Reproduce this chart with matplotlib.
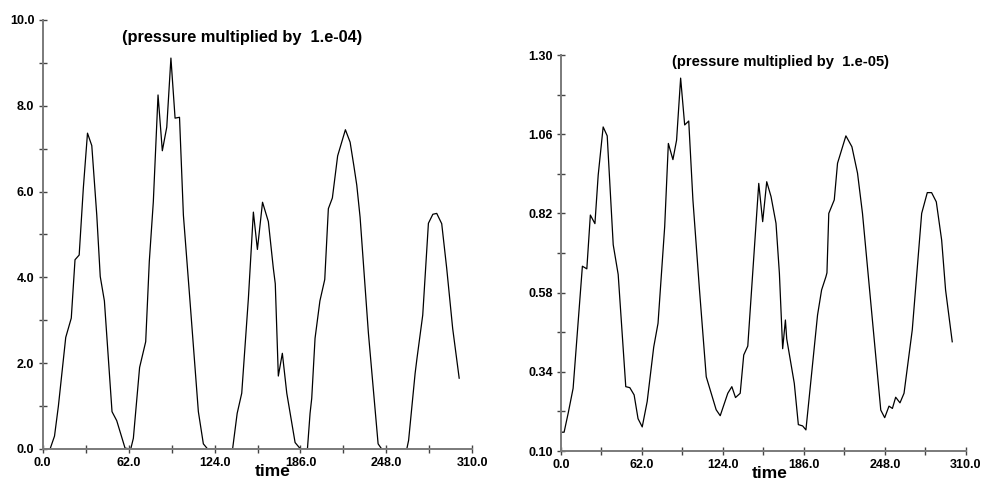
import numpy as np
import matplotlib.pyplot as plt

plt.rcParams['font.family'] = ['Liberation Sans Narrow', 'Liberation Sans', 'DejaVu Sans']
plt.rcParams['font.weight'] = 'bold'

# left panel: pressure x 1.e-04
t_left = [0, 5.3, 8.5, 11.3, 16.6, 20.6, 23.3, 26.3, 29.3, 32.3, 35.4, 39.0, 41.5, 44.5,
          50.0, 53.4, 59.4, 63.5, 65.4, 69.9, 74.3, 76.9, 79.8, 83.2, 86.3, 89.5, 92.5,
          95.5, 98.7, 101.5, 106.3, 112.3, 115.9, 119.0, 137.0, 140.3, 143.6, 148.4,
          152.0, 154.9, 158.6, 162.8, 166.4, 167.8, 170.0, 172.9, 176.1, 182.1, 186.0,
          191.0, 192.9, 194.1, 196.5, 200.0, 203.5, 206.1, 209.0, 212.8, 218.4, 221.8,
          224.5, 226.6, 229.0, 235.0, 242.0, 244.6, 262.7, 264.0, 268.7, 270.0, 274.2,
          276.0, 278.3, 281.5, 284.3, 287.9, 291.5, 295.8, 300.5]
p_left = [0, 0, 0.3, 1.0, 2.6, 3.05, 4.41, 4.52, 6.08, 7.36, 7.07, 5.45, 4.02, 3.45,
          0.87, 0.66, 0.02, 0, 0.25, 1.9, 2.5, 4.37, 5.76, 8.25, 6.95, 7.5, 9.11,
          7.71, 7.73, 5.45, 3.43, 0.87, 0.12, 0, 0, 0.83, 1.3, 3.51,
          5.52, 4.65, 5.75, 5.3, 4.21, 3.85, 1.70, 2.23, 1.3, 0.15, 0,
          0, 0.83, 1.18, 2.58, 3.45, 3.95, 5.6, 5.85, 6.83, 7.44, 7.15,
          6.6, 6.15, 5.4, 2.7, 0.12, 0, 0, 0.2, 1.76, 2.1, 3.12,
          4.06, 5.26, 5.47, 5.49, 5.25, 4.21, 2.81, 1.65]

# right panel: pressure x 1.e-05
t_right = [0, 2.4, 5.6, 9.3, 16.4, 19.8, 22.5, 26.0, 28.5, 32.3, 35.4, 40.0, 43.8,
           49.6, 52.7, 56.0, 59.0, 62.2, 66.0, 71.0, 74.3, 79.4, 82.2, 85.7, 88.5,
           91.6, 94.7, 97.8, 101.0, 106.0, 111.2, 118.8, 121.9, 127.7, 130.8, 133.6,
           137.2, 139.9, 143.0, 151.4, 154.4, 157.5, 160.8, 164.6, 167.2, 169.7, 171.8,
           172.8, 178.6, 181.7, 185.0, 187.5, 196.4, 199.5, 202.8, 203.6, 205.0, 209.2,
           211.7, 218.1, 222.7, 227.0, 230.8, 244.8, 247.8, 251.1, 253.7, 256.2, 259.5,
           262.6, 268.9, 276.1, 280.4, 283.7, 287.3, 291.4, 294.4, 299.5]
p_right = [0.157, 0.157, 0.216, 0.29, 0.66, 0.652, 0.815, 0.789, 0.936, 1.082, 1.055,
           0.725, 0.635, 0.295, 0.292, 0.27, 0.198, 0.173, 0.25, 0.415, 0.487, 0.78,
           1.032, 0.983, 1.042, 1.23, 1.088, 1.1, 0.861, 0.59, 0.325, 0.225, 0.207,
           0.275, 0.295, 0.262, 0.275, 0.391, 0.418, 0.911, 0.795, 0.916, 0.871, 0.79,
           0.638, 0.41, 0.497, 0.44, 0.305, 0.18, 0.176, 0.164, 0.512, 0.588, 0.628,
           0.64, 0.82, 0.861, 0.972, 1.055, 1.022, 0.942, 0.82, 0.224, 0.201, 0.236,
           0.229, 0.263, 0.246, 0.275, 0.467, 0.82, 0.883, 0.883, 0.855, 0.739, 0.588,
           0.431]

x_major = [0, 62, 124, 186, 248, 310]
x_minor = [31, 93, 155, 217, 279]
y_left_major = [0, 2, 4, 6, 8, 10]
y_left_minor = [1, 3, 5, 7, 9]
y_right_major = [0.10, 0.34, 0.58, 0.82, 1.06, 1.30]
y_right_minor = [0.22, 0.46, 0.70, 0.94, 1.18]

fig = plt.figure(figsize=(9.89, 4.8), dpi=100)
ax1 = fig.add_axes([0.0432, 0.0646, 0.4344, 0.894])
ax2 = fig.add_axes([0.5672, 0.0604, 0.4095, 0.825])

spine_col = '#7a7a7a'


def style(ax, ymajor, yminor, yfmt):
    for s in ['top', 'right']:
        ax.spines[s].set_visible(False)
    for s in ['left', 'bottom']:
        ax.spines[s].set_color(spine_col)
        ax.spines[s].set_linewidth(1.4)
    ax.set_xlim(0, 310)
    ax.set_ylim(ymajor[0], ymajor[-1])
    ax.set_xticks(x_major)
    ax.set_xticks(x_minor, minor=True)
    ax.set_xticklabels(['%.1f' % v for v in x_major])
    ax.set_yticks(ymajor)
    ax.set_yticks(yminor, minor=True)
    ax.set_yticklabels([yfmt % v for v in ymajor])
    ax.tick_params(which='both', direction='inout', length=6, width=1, color='#444444',
                   labelsize=9, pad=3)
    for lab in ax.get_xticklabels() + ax.get_yticklabels():
        lab.set_fontweight('bold')
    ax.patch.set_visible(False)


ax1.plot(t_left, p_left, color='black', lw=0.9)
style(ax1, y_left_major, y_left_minor, '%.1f')
ax1.text(0.464, 0.960, '(pressure multiplied by  1.e-04)', transform=ax1.transAxes,
         ha='center', va='center', fontsize=11.8, fontweight='bold')
ax1.text(0.536, -0.053, 'time', transform=ax1.transAxes, ha='center', va='center',
         fontsize=12.5, fontweight='bold')

ax2.plot(t_right, p_right, color='black', lw=0.9)
style(ax2, y_right_major, y_right_minor, '%.2f')
ax2.text(0.541, 0.982, '(pressure multiplied by  1.e-05)', transform=ax2.transAxes,
         ha='center', va='center', fontsize=10.6, fontweight='bold')
ax2.text(0.516, -0.056, 'time', transform=ax2.transAxes, ha='center', va='center',
         fontsize=12.5, fontweight='bold')

fig.savefig('out.png', dpi=100)
